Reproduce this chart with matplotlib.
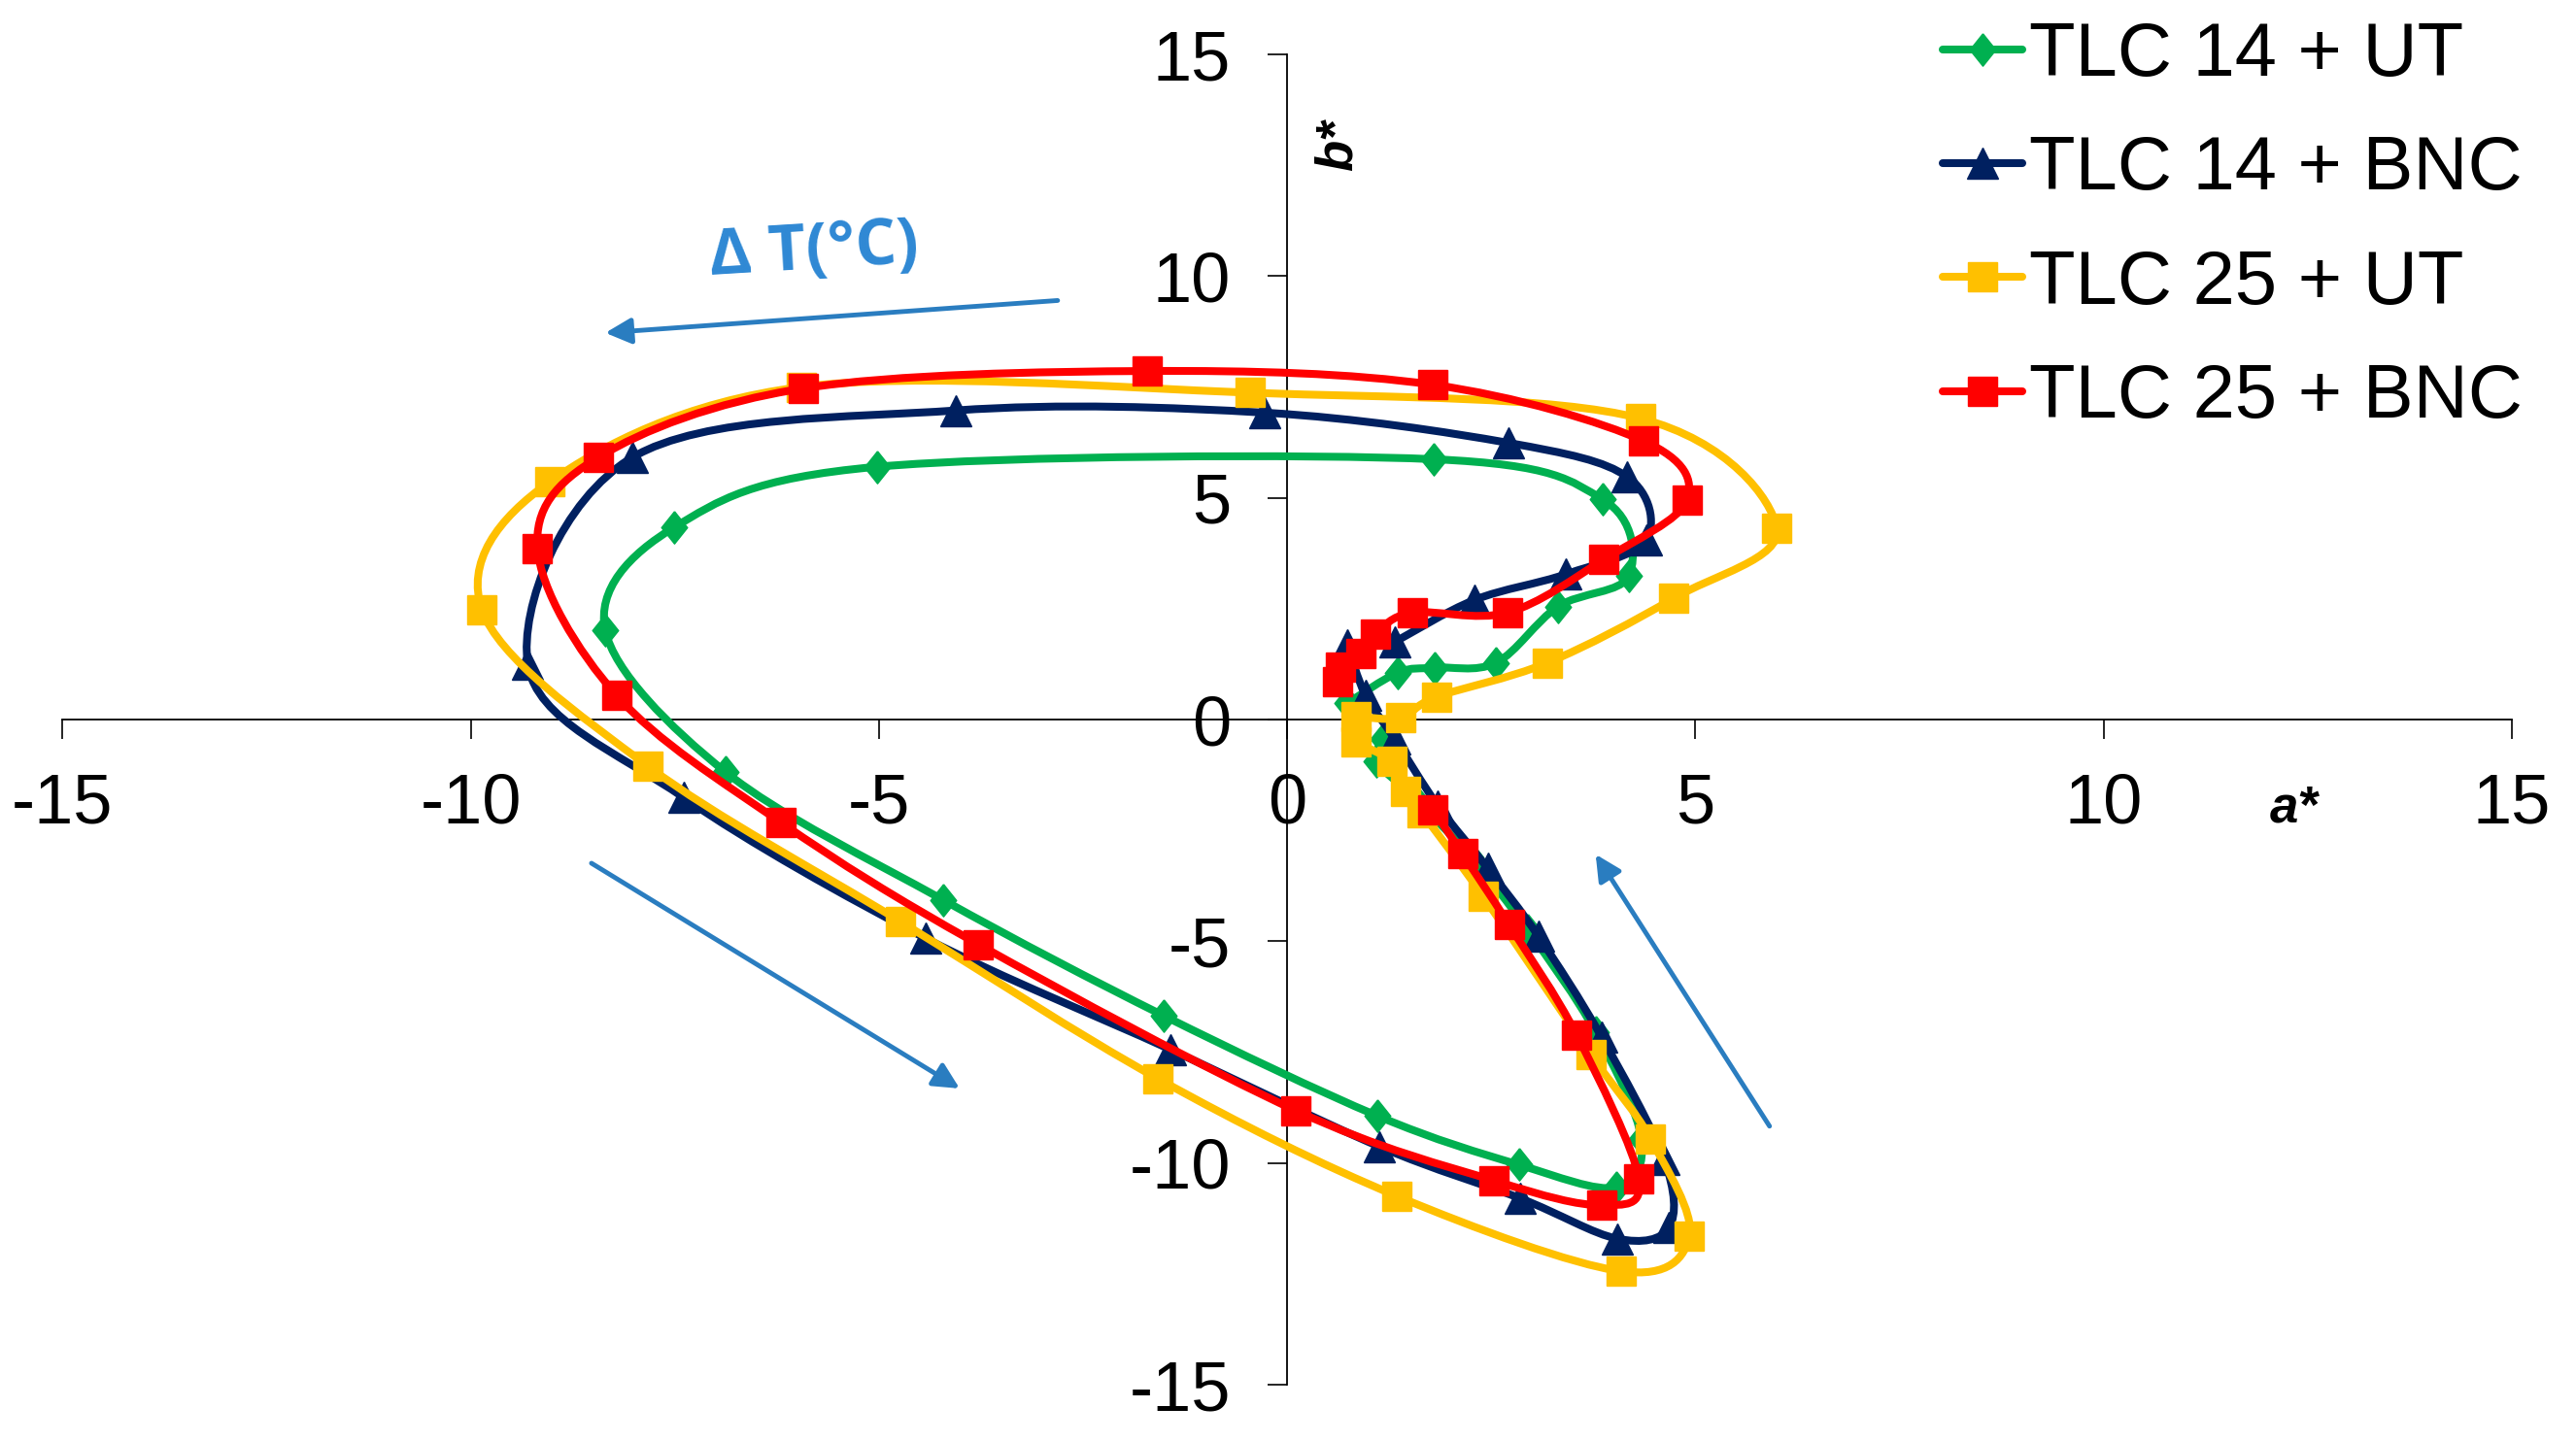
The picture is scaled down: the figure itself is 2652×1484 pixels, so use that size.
import numpy as np
import matplotlib
matplotlib.use("Agg")
import matplotlib.pyplot as plt
from matplotlib.path import Path
from matplotlib.patches import PathPatch
from matplotlib.lines import Line2D

# ---------------- data ----------------
labels = ["TLC 14 + UT", "TLC 14 + BNC", "TLC 25 + UT", "TLC 25 + BNC"]

g_a = [0.74, 1.36, 1.81, 2.56, 3.32, 4.19, 3.87, 1.80, -5.02, -7.51, -8.35, -6.88, -4.21, -1.51,
       1.11, 2.84, 4.03, 4.34, 3.78, 2.95, 2.25, 1.55, 1.10, 1.18]
g_b = [0.37, 1.06, 1.17, 1.28, 2.55, 3.25, 4.96, 5.87, 5.70, 4.33, 2.01, -1.18, -4.07, -6.68,
       -8.94, -10.04, -10.55, -9.45, -7.05, -4.75, -3.10, -1.75, -0.95, -0.44]

n_a = [1.32, 2.30, 3.42, 4.40, 4.17, 2.71, -0.27, -4.06, -8.02, -9.30, -7.39, -4.43, -1.43, 1.13,
       2.86, 4.05, 4.68, 4.62, 3.85, 3.08, 2.46, 1.85, 1.32, 0.96, 0.74]
n_b = [1.75, 2.70, 3.28, 4.05, 5.47, 6.24, 6.92, 6.97, 5.91, 1.25, -1.76, -4.93, -7.44, -9.63,
       -10.80, -11.71, -11.45, -9.93, -7.15, -4.89, -3.36, -1.95, -0.44, 0.55, 1.68]

y_a = [0.84, 1.39, 1.83, 3.19, 4.74, 6.00, 4.33, -0.45, -5.95, -9.03, -9.86, -7.83, -4.73, -1.58,
       1.35, 4.09, 4.93, 4.45, 3.72, 2.40, 1.65, 1.45, 1.28, 0.84]
y_b = [0.07, 0.04, 0.51, 1.28, 2.74, 4.31, 6.79, 7.37, 7.50, 5.36, 2.47, -1.05, -4.56, -8.10,
       -10.75, -12.44, -11.64, -9.45, -7.55, -3.98, -2.10, -1.61, -0.95, -0.51]

r_a = [0.62, 0.65, 0.90, 1.08, 1.53, 2.70, 3.88, 4.90, 4.37, 1.79, -1.71, -5.92, -8.43, -9.18,
       -8.21, -6.20, -3.78, 0.11, 2.54, 3.85, 4.31, 3.55, 2.72, 2.15, 1.79]
r_b = [0.85, 1.18, 1.50, 1.93, 2.41, 2.41, 3.61, 4.95, 6.28, 7.55, 7.86, 7.47, 5.92, 3.85,
       0.54, -2.32, -5.07, -8.82, -10.40, -10.95, -10.36, -7.12, -4.63, -3.03, -2.04]

ticks = [-15, -10, -5, 0, 5, 10, 15]
tick_labels = ["-15", "-10", "-5", "0", "5", "10", "15"]

# ---------------- style ----------------
colors = ["#00B050", "#002060", "#FFC000", "#FF0000"]
diamond = [(0, 1), (0.8, 0), (0, -1), (-0.8, 0), (0, 1)]
markers = [diamond, "^", "s", "s"]
msizes = [24, 23, 22, 22]
LW = 5.8


def smooth_path(x, y):
    pts = np.column_stack([x, y]).astype(float)
    ext = np.vstack([pts[0], pts, pts[-1]])
    verts = [pts[0]]
    codes = [Path.MOVETO]
    for i in range(len(pts) - 1):
        p0, p1, p2, p3 = ext[i], ext[i + 1], ext[i + 2], ext[i + 3]
        verts += [p1 + (p2 - p0) / 6.0, p2 - (p3 - p1) / 6.0, p2]
        codes += [Path.CURVE4] * 3
    return Path(verts, codes)


plt.rcParams["font.family"] = ["Liberation Sans", "DejaVu Sans"]

fig = plt.figure(figsize=(26.52, 14.84), dpi=100)
ax = fig.add_axes([0.02423, 0.03908, 0.95079, 0.92318])
ax.set_xlim(-15, 15)
ax.set_ylim(-15, 15)

for s in ["top", "right"]:
    ax.spines[s].set_visible(False)
for s in ["left", "bottom"]:
    ax.spines[s].set_position(("data", 0))
    ax.spines[s].set_linewidth(1.3)

ax.set_xticks(ticks)
ax.set_xticklabels(tick_labels)
ax.set_yticks(ticks)
ax.set_yticklabels(tick_labels)
ax.tick_params(axis="both", direction="out", length=14.5, width=1.2, labelsize=52)
ax.tick_params(axis="x", pad=25)
ax.tick_params(axis="y", pad=27)

series = [(g_a, g_b), (n_a, n_b), (y_a, y_b), (r_a, r_b)]
handles = []
for k, (xa, yb) in enumerate(series):
    c = colors[k]
    patch = PathPatch(smooth_path(xa, yb), fill=False, edgecolor=c, lw=LW,
                      capstyle="round", joinstyle="round", zorder=3 + 2 * k)
    ax.add_patch(patch)
    ax.plot(xa, yb, ls="none", marker=markers[k], ms=msizes[k], mfc=c, mec=c, mew=1,
            zorder=4 + 2 * k)
    handles.append(Line2D([], [], color=c, lw=LW, marker=markers[k], ms=msizes[k],
                          mfc=c, mec=c, solid_capstyle="round"))

leg = fig.legend(handles, labels, loc="upper left", bbox_to_anchor=(2000 / 2652, 1 - 21 / 1484),
                 frameon=False, fontsize=56, handlelength=1.05, handletextpad=0.1,
                 labelspacing=0.57, borderaxespad=0, borderpad=0)

# axis titles
ax.text(12.04, -2.30, "a*", fontsize=38, fontweight="bold", fontstyle="italic",
        ha="left", va="baseline")
ax.text(0.62, 12.95, "b*", fontsize=38, fontweight="bold", fontstyle="italic",
        ha="center", va="center", rotation=90)

# temperature direction annotations
acol = "#2A7DC0"
for tail, tip in [((-2.81, 9.45), (-8.35, 8.72)),
                  ((-8.52, -3.24), (-4.01, -8.32)),
                  ((5.91, -9.17), (3.78, -3.04))]:
    ax.annotate("", xy=tip, xytext=tail,
                arrowprops=dict(arrowstyle="-|>", color=acol, lw=3.5,
                                mutation_scale=40, shrinkA=0, shrinkB=0), zorder=2)

ax.text(-5.79, 10.55, "Δ T(°C)", fontsize=48, fontweight="bold", color="#2E88D4",
        family=["Open Sans", "DejaVu Sans"], ha="center", va="center", rotation=3.5,
        rotation_mode="anchor")

fig.savefig("out.png", dpi=100)
